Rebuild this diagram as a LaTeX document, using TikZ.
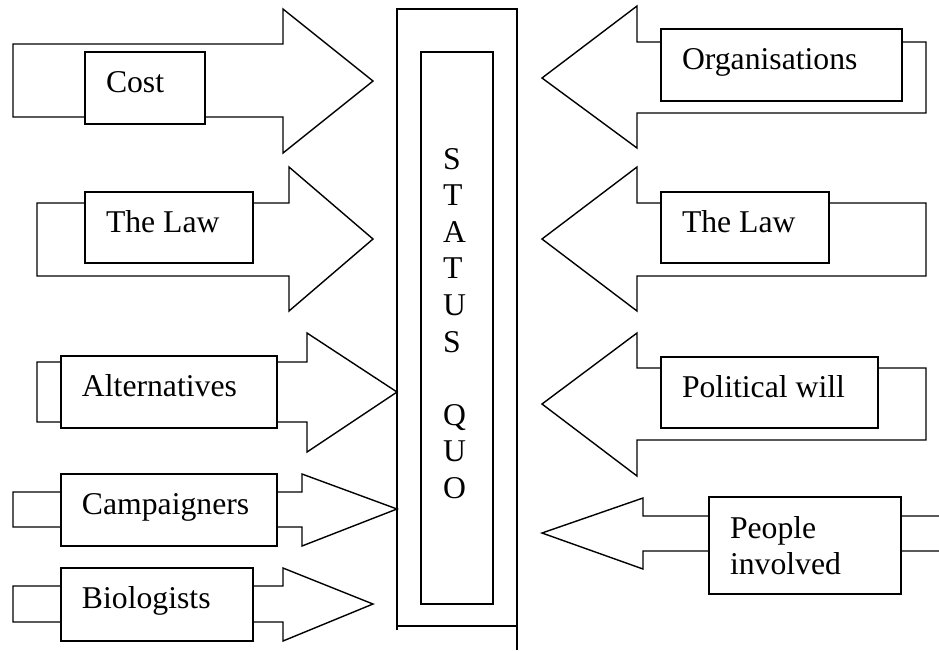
\documentclass[tikz,border=0pt]{standalone}
\usepackage{fontspec}
\setmainfont{Liberation Serif}
\usepackage{tikz}

\tikzset{
    force/.style={draw, line width=0.7pt, line join=miter},
    labelbox/.style={draw, fill=white, line width=0.7pt, anchor=north west,
        outer sep=0pt, inner xsep=10.5pt, inner ysep=0pt, align=flush left,
        text height=20pt, font=\fontsize{15.85pt}{18.3pt}\selectfont},
}

\begin{document}
\begin{tikzpicture}[x=0.5pt, y=-0.5pt]
    \useasboundingbox (0,0) rectangle (939,650);

    % Arrows pushing towards the status quo
    \draw [force] (13,44)  -- (283,44)  -- (283,9)   -- (373,81)  -- (283,153) -- (283,117) -- (13,117)  -- cycle;
    \draw [force] (37,203) -- (289,203) -- (289,167) -- (373,239) -- (289,311) -- (289,276) -- (37,276)  -- cycle;
    \draw [force] (37,362) -- (307,362) -- (307,333) -- (397,392) -- (307,452) -- (307,422) -- (37,422)  -- cycle;
    \draw [force] (13,492) -- (302,492) -- (302,474) -- (397,509) -- (302,546) -- (302,527) -- (13,527)  -- cycle;
    \draw [force] (13,586) -- (283,586) -- (283,568) -- (373,604) -- (283,641) -- (283,622) -- (13,622)  -- cycle;

    % Arrows pushing back
    \draw [force] (926,42)  -- (637,42)  -- (637,6)   -- (542,78)  -- (637,148) -- (637,113) -- (926,113) -- cycle;
    \draw [force] (926,203) -- (637,203) -- (637,167) -- (542,239) -- (637,311) -- (637,276) -- (926,276) -- cycle;
    \draw [force] (926,368) -- (637,368) -- (637,333) -- (542,404) -- (637,476) -- (637,440) -- (926,440) -- cycle;
    \draw [force] (939,516) -- (643,516) -- (643,498) -- (542,533) -- (643,569) -- (643,551) -- (939,551);

    % Status quo column
    \draw [force] (397,630) -- (397,9) -- (517,9) -- (517,650);
    \draw [force] (397,626) -- (517,626);
    \node [labelbox, inner xsep=11pt, text width=14pt, text height=58.5pt, text depth=217.5pt]
        (statusquo) at (421,52) {S\\T\\A\\T\\U\\S\\[\baselineskip]Q\\U\\O};

    % Boxes {cost, lawl, alt, camp, bio}
    \node [labelbox, text width=39pt, text depth=16pt]   (cost) at (85,52)   {Cost};
    \node [labelbox, text width=63pt, text depth=15.5pt] (lawl) at (85,192)  {The Law};
    \node [labelbox, text width=87pt, text depth=16pt]   (alt)  at (61,356)  {Alternatives};
    \node [labelbox, text width=87pt, text depth=16pt]   (camp) at (61,474)  {Campaigners};
    \node [labelbox, text width=75pt, text depth=16.5pt] (bio)  at (61,568)  {Biologists};

    % Boxes {org, lawr, polwill, people}
    \node [labelbox, text width=99.5pt, text depth=16pt]  (org)     at (661,29)  {Organisations};
    \node [labelbox, text width=63pt, text depth=15.5pt]  (lawr)    at (661,192) {The Law};
    \node [labelbox, text width=87.5pt, text depth=15.5pt] (polwill) at (661,357) {Political will};
    \node [labelbox, text width=75pt, text height=20.5pt, text depth=28pt] (people) at (709,497) {People\\involved};
\end{tikzpicture}
\end{document}
